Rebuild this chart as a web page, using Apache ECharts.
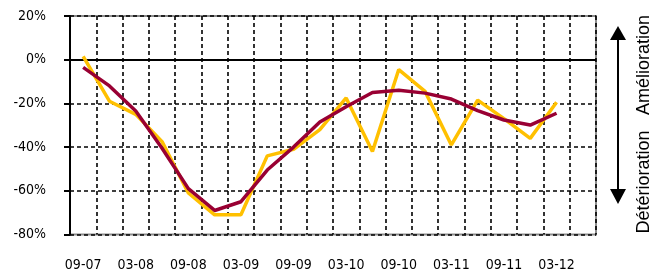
<!DOCTYPE html>
<html><head><meta charset="utf-8">
<script src="https://cdn.jsdelivr.net/npm/echarts@6/dist/echarts.min.js"></script>
<style>html,body{margin:0;padding:0;background:#fff}#c{width:655px;height:273px}</style>
</head><body><div id="c"></div>
<script>
// Quarterly categories (label shown every other quarter)
const categories = ['09-07','12-07','03-08','06-08','09-08','12-08','03-09','06-09','09-09','12-09',
  '03-10','06-10','09-10','12-10','03-11','06-11','09-11','12-11','03-12','06-12'];
// Yellow series (raw balance, %)
const rawSeries = [1.5, -19, -25, -37.5, -61, -71, -71, -44, -41, -32, -17.5, -42, -4.5, -14.5, -39, -18.5, -27, -36, -19.5];
// Maroon series (smoothed, %)
const smoothSeries = [-3.5, -12, -23.5, -40.5, -59, -69, -65, -50.5, -40, -28.5, -21.5, -15, -14, -15.3, -18, -23.3, -27.6, -29.9, -24.5];
// Y axis ticks
const yMin = -80, yMax = 20, yStep = 20;
const upLabel = 'Amélioration';
const downLabel = 'Détérioration';

const FONT = "'DejaVu Sans Condensed','Liberation Sans',sans-serif";
const chart = echarts.init(document.getElementById('c'), null, {renderer:'canvas'});
chart.setOption({
  animation:false,
  backgroundColor:'#fff',
  grid:{left:70, right:59, top:16, bottom:38.5, show:true, borderColor:'#8c8c8c', borderWidth:2},
  xAxis:{
    type:'category', data:categories, boundaryGap:true,
    axisLine:{show:false},
    axisTick:{show:false, interval:0},
    axisLabel:{interval:1, margin:24, color:'#000', fontFamily:FONT, fontSize:14},
    splitLine:{show:true, interval:0, lineStyle:{color:'#000', type:[4,3], width:1.6}}
  },
  yAxis:{
    type:'value', min:yMin, max:yMax, interval:yStep,
    axisLine:{show:true, lineStyle:{color:'#000', width:2}},
    axisTick:{show:true, inside:false, length:6, lineStyle:{color:'#000', width:2}},
    axisLabel:{formatter:'{value}%', margin:24, color:'#000', fontFamily:FONT, fontSize:14},
    splitLine:{show:true, lineStyle:{color:'#000', type:[4,3], width:1.6}}
  },
  series:[
    {name:'Solde', type:'line', data:rawSeries, symbol:'none', z:3,
     lineStyle:{color:'#FFC000', width:3.5}, itemStyle:{color:'#FFC000'},
     markLine:{silent:true, symbol:'none', label:{show:false}, z:2,
       lineStyle:{color:'#000', type:'solid', width:2}, data:[{yAxis:0}]}},
    {name:'Moyenne', type:'line', data:smoothSeries, symbol:'none', z:4,
     lineStyle:{color:'#990033', width:3.5}, itemStyle:{color:'#990033'}}
  ],
  graphic:[
    {type:'line', shape:{x1:618, y1:38, x2:618, y2:192}, style:{stroke:'#000', lineWidth:2}},
    {type:'polygon', shape:{points:[[618,26],[610,40],[626,40]]}, style:{fill:'#000'}},
    {type:'polygon', shape:{points:[[618,204],[610,189],[626,189]]}, style:{fill:'#000'}},
    {type:'text', x:644, y:65, rotation:Math.PI/2,
     style:{text:upLabel, fill:'#000', font:"18px 'Liberation Sans', sans-serif", align:'center', verticalAlign:'middle'}},
    {type:'text', x:644, y:182, rotation:Math.PI/2,
     style:{text:downLabel, fill:'#000', font:"18px 'Liberation Sans', sans-serif", align:'center', verticalAlign:'middle'}}
  ]
});
</script></body></html>
